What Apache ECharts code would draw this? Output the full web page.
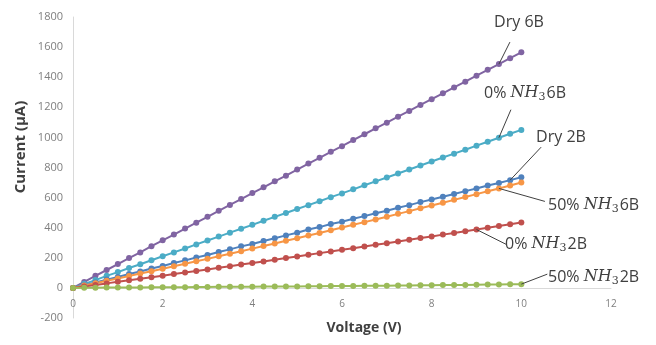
<!DOCTYPE html>
<html>
<head>
<meta charset="utf-8">
<script src="https://cdn.jsdelivr.net/npm/echarts@6/dist/echarts.min.js"></script>
<style>
html,body{margin:0;padding:0;background:#fff;}
#chart{width:656px;height:345px;}
</style>
</head>
<body>
<div id="chart"></div>
<script>
// Voltage (V), 0.25 V steps
const voltage = [0,0.25,0.5,0.75,1,1.25,1.5,1.75,2,2.25,2.5,2.75,3,3.25,3.5,3.75,4,4.25,4.5,4.75,5,5.25,5.5,5.75,6,6.25,6.5,6.75,7,7.25,7.5,7.75,8,8.25,8.5,8.75,9,9.25,9.5,9.75,10];
const xTicks = [0,2,4,6,8,10,12];
const yTicks = [-200,0,200,400,600,800,1000,1200,1400,1600,1800];

const dry6B   = [0,40,80,119,158,198,236,277,316,354,394,433,472,512,551,590,630,668,708,746,786,826,864,904,942,982,1021,1060,1098,1138,1176,1216,1254,1293,1332,1370,1410,1449,1487,1526,1565];
const nh0_6B  = [0,27,52,80,105,132,157,184,210,236,262,289,315,341,367,393,419,446,472,498,524,550,576,603,628,655,682,708,734,760,787,813,840,866,892,918,945,971,998,1024,1050];
const dry2B   = [0,18,36,55,73,92,109,129,146,165,183,202,219,239,256,276,292,312,330,349,366,388,404,425,440,459,477,496,513,533,550,570,587,606,624,643,660,680,697,716,735];
const nh50_6B = [0,16,31,47,63,79,95,111,127,144,160,177,193,210,227,244,261,278,295,313,330,348,365,383,401,419,437,455,473,492,510,529,547,566,585,604,623,642,661,681,700];
const nh0_2B  = [0,10,20,30,41,51,61,71,81,92,102,113,123,134,144,155,166,176,187,198,209,220,231,242,253,264,275,286,297,308,320,331,342,354,365,377,388,400,412,423,435];
const nh50_2B = [0,1,1,2,2,3,3,4,4,5,5,6,6,7,7,8,8,9,9,10,10,11,11,12,12,13,14,14,15,16,16,17,18,19,19,20,21,22,23,24,25];

const seriesDefs = [
  {name:'Dry 6B', data:dry6B, color:'#8064A2'},
  {name:'0% NH3 6B', data:nh0_6B, color:'#4BACC6'},
  {name:'Dry 2B', data:dry2B, color:'#4F81BD'},
  {name:'50% NH3 6B', data:nh50_6B, color:'#F79646'},
  {name:'0% NH3 2B', data:nh0_2B, color:'#C0504D'},
  {name:'50% NH3 2B', data:nh50_2B, color:'#9BBB59'}
];

const chart = echarts.init(document.getElementById('chart'), null, {renderer:'canvas'});
const labelFont = 'Open Sans, Lato, sans-serif';
const gridTop = 17, gridBottom = 27, H = 345;
const plotH = H - gridTop - gridBottom;
const zeroOffset = -plotH * (0 - yTicks[0]) / (yTicks[yTicks.length-1] - yTicks[0]);

chart.setOption({
  animation:false,
  backgroundColor:'#fff',
  grid:{left:73,right:45,top:gridTop,bottom:gridBottom,containLabel:false},
  xAxis:{
    type:'value', min:xTicks[0], max:xTicks[xTicks.length-1], interval:2,
    offset: zeroOffset,
    axisLine:{onZero:false,lineStyle:{color:'#D9D9D9',width:1}},
    axisTick:{show:false}, splitLine:{show:false},
    axisLabel:{color:'#7F7F7F',fontSize:10,fontFamily:labelFont,margin:11}
  },
  yAxis:{
    type:'value', min:yTicks[0], max:yTicks[yTicks.length-1], interval:200,
    axisLine:{show:true,onZero:false,lineStyle:{color:'#D9D9D9',width:1}},
    axisTick:{show:false}, splitLine:{show:false},
    axisLabel:{color:'#7F7F7F',fontSize:11,fontFamily:labelFont,margin:10,formatter:v=>String(v)}
  },
  series: seriesDefs.map(s=>({
    name:s.name, type:'line',
    data: voltage.map((v,i)=>[v,s.data[i]]),
    symbol:'circle', symbolSize:6, showSymbol:true,
    lineStyle:{color:s.color,width:2},
    itemStyle:{color:s.color},
    z:2
  }))
});

function px(seriesIdx, i){
  return chart.convertToPixel({gridIndex:0},[voltage[i], seriesDefs[seriesIdx].data[i]]);
}

const txtColor = '#404040';
const rich = {
  a:{fontSize:16,fontFamily:labelFont,color:txtColor},
  i:{fontSize:16,fontFamily:'DejaVu Serif, Liberation Serif, serif',fontStyle:'italic',color:txtColor},
  s:{fontSize:11,fontFamily:'DejaVu Serif, Liberation Serif, serif',color:txtColor,padding:[9,1,0,0]}
};
function nh(pre,post){ return '{a|'+pre+'}{i|NH}{s|3}{a|'+post+'}'; }

const annots = [
  {s:0,i:38,dx:11,dy:-22,text:'{a|Dry 6B}',tx:519,ty:22,align:'center'},
  {s:1,i:38,dx:12,dy:-28,text:nh('0% ','6B'),tx:525,ty:93,align:'center'},
  {s:2,i:39,dx:31,dy:-33,text:'{a|Dry 2B}',tx:561,ty:137,align:'center'},
  {s:3,i:38,dx:46,dy:13,text:nh('50% ','6B'),tx:548,ty:205,align:'left'},
  {s:4,i:36,dx:30,dy:15,text:nh('0% ','2B'),tx:505,ty:244,align:'left'},
  {s:5,i:40,dx:26,dy:-10,text:nh('50% ','2B'),tx:548,ty:277,align:'left'}
];

const graphics = [];
annots.forEach(a=>{
  const p = px(a.s,a.i);
  graphics.push({type:'line',shape:{x1:p[0],y1:p[1],x2:p[0]+a.dx,y2:p[1]+a.dy},style:{stroke:'#404040',lineWidth:1},z:10});
  graphics.push({type:'text',x:a.tx,y:a.ty,style:{rich:rich,text:a.text,align:a.align,verticalAlign:'middle',fill:txtColor},z:11});
});
graphics.push({type:'text',x:364,y:328,style:{text:'Voltage (V)',font:'bold 14px '+labelFont,fill:'#404040',align:'center',verticalAlign:'middle'}});
graphics.push({type:'text',x:21,y:147,rotation:Math.PI/2,style:{text:'Current (μA)',font:'bold 15px '+labelFont,fill:'#404040',align:'center',verticalAlign:'middle'}});
chart.setOption({graphic:graphics});
</script>
</body>
</html>
